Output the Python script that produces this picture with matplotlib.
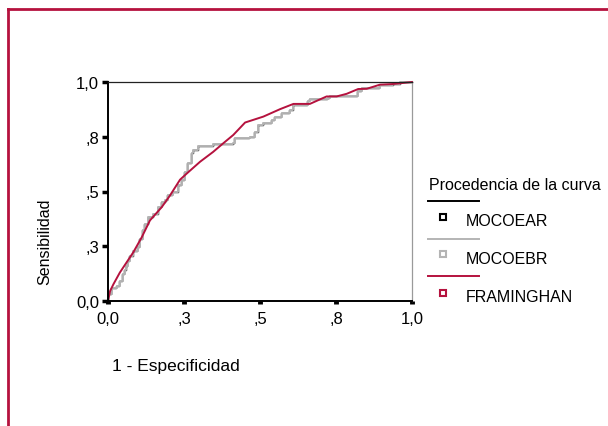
"""ROC curves: MOCOEAR, MOCOEBR and FRAMINGHAN"""

import matplotlib
matplotlib.use("Agg")
from matplotlib import pyplot as plt
from matplotlib.lines import Line2D

plt.rcParams["font.family"] = ["Liberation Sans", "DejaVu Sans"]

W, H = 608, 427
CRIMSON = "#B5123E"
GRAY = "#B4B4B4"

tick_vals = [0.0, 0.25, 0.5, 0.75, 1.0]
tick_labels = ["0,0", ",3", ",5", ",8", "1,0"]

series_names = ["MOCOEAR", "MOCOEBR", "FRAMINGHAN"]

# MOCOEAR (black step curve, mostly hidden under MOCOEBR)
ear_fpr = [0.0, 0.0, 0.010, 0.026, 0.037, 0.047, 0.053, 0.058, 0.064, 0.070,
           0.081, 0.097, 0.102, 0.113, 0.119, 0.131, 0.147, 0.163, 0.174,
           0.186, 0.195, 0.212, 0.229, 0.239, 0.250, 0.261, 0.272, 0.279,
           0.295, 0.344, 0.410, 0.415, 0.464, 0.481, 0.492, 0.509, 0.535,
           0.547, 0.568, 0.596, 0.607, 0.656, 0.661, 0.722, 0.727, 0.810,
           0.820, 0.831, 0.882, 0.892, 0.937, 0.959, 1.0]
ear_tpr = [0.0, 0.030, 0.061, 0.069, 0.092, 0.123, 0.140, 0.160, 0.184, 0.207,
           0.230, 0.245, 0.283, 0.322, 0.352, 0.383, 0.398, 0.429, 0.452,
           0.459, 0.482, 0.498, 0.528, 0.551, 0.590, 0.628, 0.674, 0.689,
           0.708, 0.717, 0.720, 0.743, 0.750, 0.773, 0.804, 0.812, 0.827,
           0.842, 0.858, 0.873, 0.896, 0.911, 0.922, 0.926, 0.934, 0.934,
           0.957, 0.972, 0.972, 0.988, 0.991, 1.0, 1.0]

# MOCOEBR (gray step curve)
ebr_fpr = [0.0, 0.0, 0.012, 0.029, 0.039, 0.050, 0.055, 0.060, 0.066, 0.072,
           0.083, 0.100, 0.105, 0.116, 0.122, 0.133, 0.149, 0.166, 0.177,
           0.188, 0.198, 0.215, 0.231, 0.242, 0.253, 0.264, 0.275, 0.281,
           0.297, 0.346, 0.412, 0.418, 0.467, 0.484, 0.495, 0.511, 0.538,
           0.549, 0.571, 0.599, 0.610, 0.659, 0.664, 0.725, 0.730, 0.812,
           0.823, 0.834, 0.884, 0.895, 0.939, 0.961, 1.0]
ebr_tpr = ear_tpr

# FRAMINGHAN (crimson polyline)
fra_fpr = [0.0, 0.007, 0.018, 0.039, 0.061, 0.083, 0.111, 0.138, 0.177, 0.204,
           0.237, 0.259, 0.303, 0.346, 0.379, 0.412, 0.451, 0.511, 0.566,
           0.610, 0.664, 0.719, 0.752, 0.785, 0.823, 0.851, 0.895, 0.939,
           0.966, 1.0]
fra_tpr = [0.0, 0.046, 0.077, 0.130, 0.176, 0.222, 0.291, 0.368, 0.429, 0.482,
           0.554, 0.582, 0.636, 0.681, 0.720, 0.758, 0.815, 0.842, 0.876,
           0.900, 0.900, 0.934, 0.934, 0.946, 0.968, 0.969, 0.988, 0.991,
           0.995, 1.0]


def fx(px):
    return px / W


def fy(py):
    return 1 - py / H


fig = plt.figure(figsize=(W / 100, H / 100), dpi=100)
fig.patch.set_facecolor("white")

# outer crimson frame (top and left edges)
fig.add_artist(Line2D([fx(8), 1.0], [fy(10), fy(10)], color=CRIMSON, lw=2))
fig.add_artist(Line2D([fx(8), fx(8)], [fy(10), 0.0], color=CRIMSON, lw=2))

axis = fig.add_axes([fx(108), fy(302), fx(412) - fx(108), fy(83) - fy(302)])
axis.plot(ear_fpr, ear_tpr, color="black", lw=1.0, drawstyle="steps-post",
          clip_on=False)
axis.plot(ebr_fpr, ebr_tpr, color=GRAY, lw=1.4, drawstyle="steps-post",
          clip_on=False)
axis.plot(fra_fpr, fra_tpr, color=CRIMSON, lw=1.4, clip_on=False)

axis.set_xlim(0, 1)
axis.set_ylim(0, 1)
axis.set_xticks(tick_vals)
axis.set_xticklabels(tick_labels)
axis.set_yticks(tick_vals)
axis.set_yticklabels(tick_labels)
axis.tick_params(axis="x", length=2.5, width=3.5, pad=5, labelsize=12,
                 direction="out", color="black")
axis.tick_params(axis="y", length=4.5, width=2.5, pad=2, labelsize=12,
                 direction="out", color="black")

for side in ("left", "bottom"):
    axis.spines[side].set_linewidth(1.4)
    axis.spines[side].set_color("black")
axis.spines["top"].set_linewidth(0.9)
axis.spines["top"].set_color("#222222")
axis.spines["right"].set_linewidth(0.9)
axis.spines["right"].set_color("#9A9A9A")

fig.text(fx(45), fy(242), "Sensibilidad", rotation=90, ha="center",
         va="center", fontsize=11.5)
fig.text(fx(112), fy(367), "1 - Especificidad", ha="left", va="center",
         fontsize=12.5)

# legend in the SPSS layout: line row, then marker + label row
fig.text(fx(429), fy(186), "Procedencia de la curva", ha="left",
         va="center", fontsize=11.5)
legend_colors = ["black", GRAY, CRIMSON]
line_rows = [202, 240, 277]
label_rows = [222, 260, 297]
marker_rows = [218, 255, 294]
for name, color, ly, ty, my in zip(series_names, legend_colors, line_rows,
                                   label_rows, marker_rows):
    fig.add_artist(Line2D([fx(428), fx(479)], [fy(ly), fy(ly)], color=color,
                          lw=1.4))
    fig.add_artist(Line2D([fx(443)], [fy(my)], marker="s", markersize=4.5,
                          mfc="white", mec=color, mew=1.5, ls="none"))
    fig.text(fx(466), fy(ty), name, ha="left", va="center", fontsize=11.5)

fig.savefig("out.png", dpi=100)
